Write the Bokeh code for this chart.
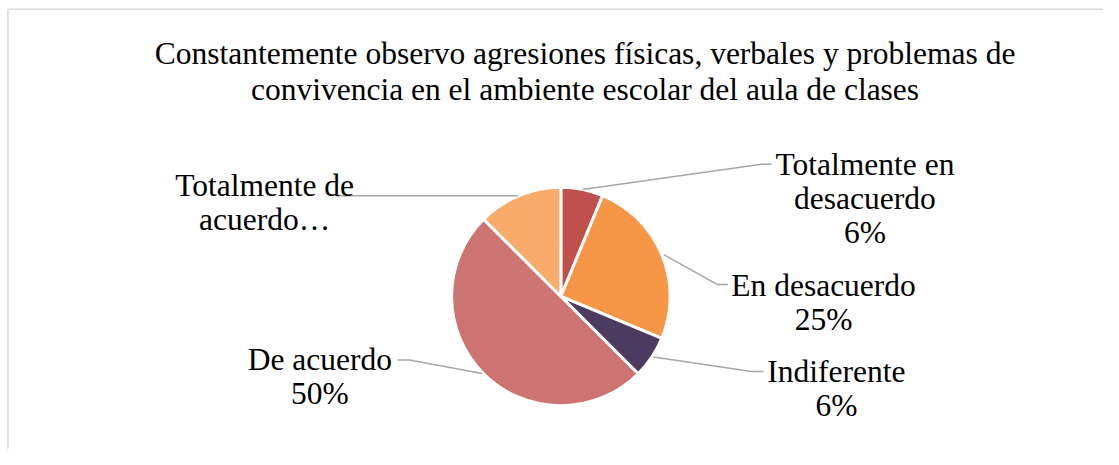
import math
from bokeh.plotting import figure
from bokeh.models import Range1d
from bokeh.core.properties import value
from bokeh.embed import file_html
from bokeh.resources import INLINE

# ---- data ----
categories = ["Totalmente en desacuerdo", "En desacuerdo", "Indiferente", "De acuerdo", "Totalmente de acuerdo"]
counts = [1, 4, 1, 8, 2]
pct_labels = ["6%", "25%", "6%", "50%", "13%"]
label_lines = [
    ["Totalmente en", "desacuerdo", "6%"],
    ["En desacuerdo", "25%"],
    ["Indiferente", "6%"],
    ["De acuerdo", "50%"],
    ["Totalmente de", "acuerdo\u2026"],
]
colors = ["#C0504D", "#F79646", "#4D3A61", "#CD7371", "#F8AC6C"]
title_lines = ["Constantemente observo agresiones físicas, verbales y problemas de",
               "convivencia en el ambiente escolar del aula de clases"]

# ---- layout (reference pixel coordinates, scaled onto the canvas) ----
W, H = 1103, 449
SX, SY = W / 1119, H / 465


def X(px):
    return px * SX


def Y(py):
    return H - py * SY


CX, CY, R = 568.5, 306.5, 112
label_center_x = [877, 835, 848, 324, 268]
label_first_baseline = [170, 295, 384, 372, 192]
line_step = 35
elbows = [(772, 169.5), (727, 294), (762, 384.3), (415, 372.3), (None, None)]
ends = [(782, 169.5), (738, 294), (774, 384.3), (403, 372.3), (340, 202.3)]

FONT = value("Liberation Serif")
FS = "31.5px"

p = figure(width=W, height=H, x_range=Range1d(0, W), y_range=Range1d(0, H),
           output_backend="svg", toolbar_location=None,
           x_axis_location=None, y_axis_location=None, min_border=0)
p.grid.visible = False
p.outline_line_color = None
p.background_fill_color = "white"
p.border_fill_color = "white"

# chart frame (left and top edges visible)
p.line(x=[X(7.5), X(7.5)], y=[Y(480), Y(9)], line_color="#D9D9D9", line_width=1.5)
p.line(x=[X(7.5), X(1140)], y=[Y(9), Y(9)], line_color="#D9D9D9", line_width=1.5)

total = sum(counts)
cum = 0
starts, ends_a, mids = [], [], []
for c in counts:
    a0 = math.pi / 2 - 2 * math.pi * cum / total
    cum += c
    a1 = math.pi / 2 - 2 * math.pi * cum / total
    starts.append(a0)
    ends_a.append(a1)
    mids.append((a0 + a1) / 2)

R_canvas = R * (SX + SY) / 2
p.wedge(x=[X(CX)] * len(counts), y=[Y(CY)] * len(counts), radius=R_canvas,
        start_angle=starts, end_angle=ends_a, direction="clock",
        fill_color=colors, line_color="white", line_width=3)

# leader lines
for i, m in enumerate(mids):
    sx = CX + (R + 1) * math.cos(m)
    sy = CY - (R + 1) * math.sin(m)
    xs, ys = [X(sx)], [Y(sy)]
    if elbows[i][0] is not None:
        xs.append(X(elbows[i][0])); ys.append(Y(elbows[i][1]))
    xs.append(X(ends[i][0])); ys.append(Y(ends[i][1]))
    p.line(x=xs, y=ys, line_color="#A6A6A6", line_width=1.5)

# labels
for i, lines in enumerate(label_lines):
    for j, t in enumerate(lines):
        p.text(x=[X(label_center_x[i])], y=[Y(label_first_baseline[i] + j * line_step)], text=[t],
               text_font=FONT, text_font_size=FS, text_color="#000000",
               text_align="center", text_baseline="alphabetic")

# title
for j, t in enumerate(title_lines):
    p.text(x=[X(593)], y=[Y(55 + j * 36.7)], text=[t],
           text_font=FONT, text_font_size=FS, text_color="#000000",
           text_align="center", text_baseline="alphabetic")

open("out.html", "w").write(file_html(p, INLINE))
